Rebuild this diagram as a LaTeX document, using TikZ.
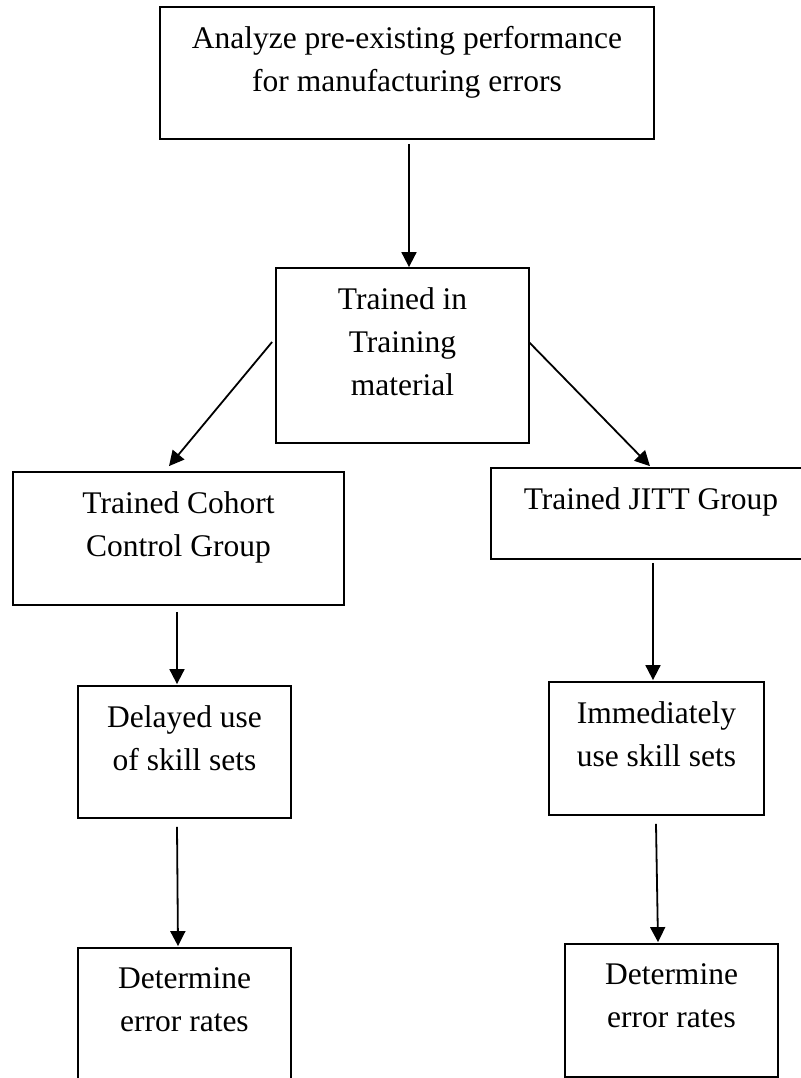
\documentclass[tikz,border=0pt]{standalone}
\usepackage{fontspec}
\setmainfont{Liberation Serif}
\usetikzlibrary{shapes,arrows.meta}

\newcommand{\boxtext}[3]{\parbox[t][#2][t]{#1}{\centering\vspace*{9.75pt}#3}}

\tikzset{
  flowbox/.style={draw, line width=0.9pt, inner sep=0pt},
  arr/.style={-{Triangle[length=7.5pt,width=7.5pt]}, line width=0.9pt}
}

\begin{document}
\begin{tikzpicture}[x=0.5pt, y=-0.5pt, font=\fontsize{15.75pt}{21.5pt}\selectfont]
      \useasboundingbox (0,0) rectangle (801,1078);
      \clip (0,0) rectangle (801,1078);

      \node [flowbox] (analyze) at (407,73)
            {\boxtext{247pt}{66pt}{Analyze pre-existing performance\\for manufacturing errors}};
      \node [flowbox] (trained) at (402.5,355.5)
            {\boxtext{126.5pt}{87.5pt}{Trained in\\Training\\material}};
      \node [flowbox] (cohort) at (178.5,538.5)
            {\boxtext{165.5pt}{66.5pt}{Trained Cohort\\Control Group}};
      \node [flowbox] (jitt) at (651,513.5)
            {\boxtext{160pt}{45.5pt}{Trained JITT Group}};
      \node [flowbox] (delayed) at (184.5,752)
            {\boxtext{106.5pt}{66pt}{Delayed use\\of skill sets}};
      \node [flowbox] (immediately) at (656.5,748.5)
            {\boxtext{107.5pt}{66.5pt}{Immediately\\use skill sets}};
      \node [flowbox] (errleft) at (184.5,1014.5)
            {\boxtext{106.5pt}{66.5pt}{Determine\\error rates}};
      \node [flowbox] (errright) at (671.5,1010.5)
            {\boxtext{106.5pt}{66.5pt}{Determine\\error rates}};

		\draw [arr] ([shift={(2,4)}]analyze.south) -- ([shift={(6.5,0)}]trained.north);
		\draw [arr] ([shift={(-3,-13.5)}]trained.west) -- ([shift={(-9.5,-5)}]cohort.north);
		\draw [arr] ([shift={(-1,-13.5)}]trained.east) -- ([shift={(-1,-1)}]jitt.north);
		\draw [arr] ([shift={(-1.5,6)}]cohort.south) -- ([shift={(-7.5,-1)}]delayed.north);
		\draw [arr] ([shift={(2,3)}]jitt.south) -- ([shift={(-3.5,-1)}]immediately.north);
		\draw [arr] ([shift={(-7.5,8)}]delayed.south) -- ([shift={(-6.5,-1)}]errleft.north);
		\draw [arr] ([shift={(-0.5,8)}]immediately.south) -- ([shift={(-13.5,-1)}]errright.north);
    \end{tikzpicture}
\end{document}
